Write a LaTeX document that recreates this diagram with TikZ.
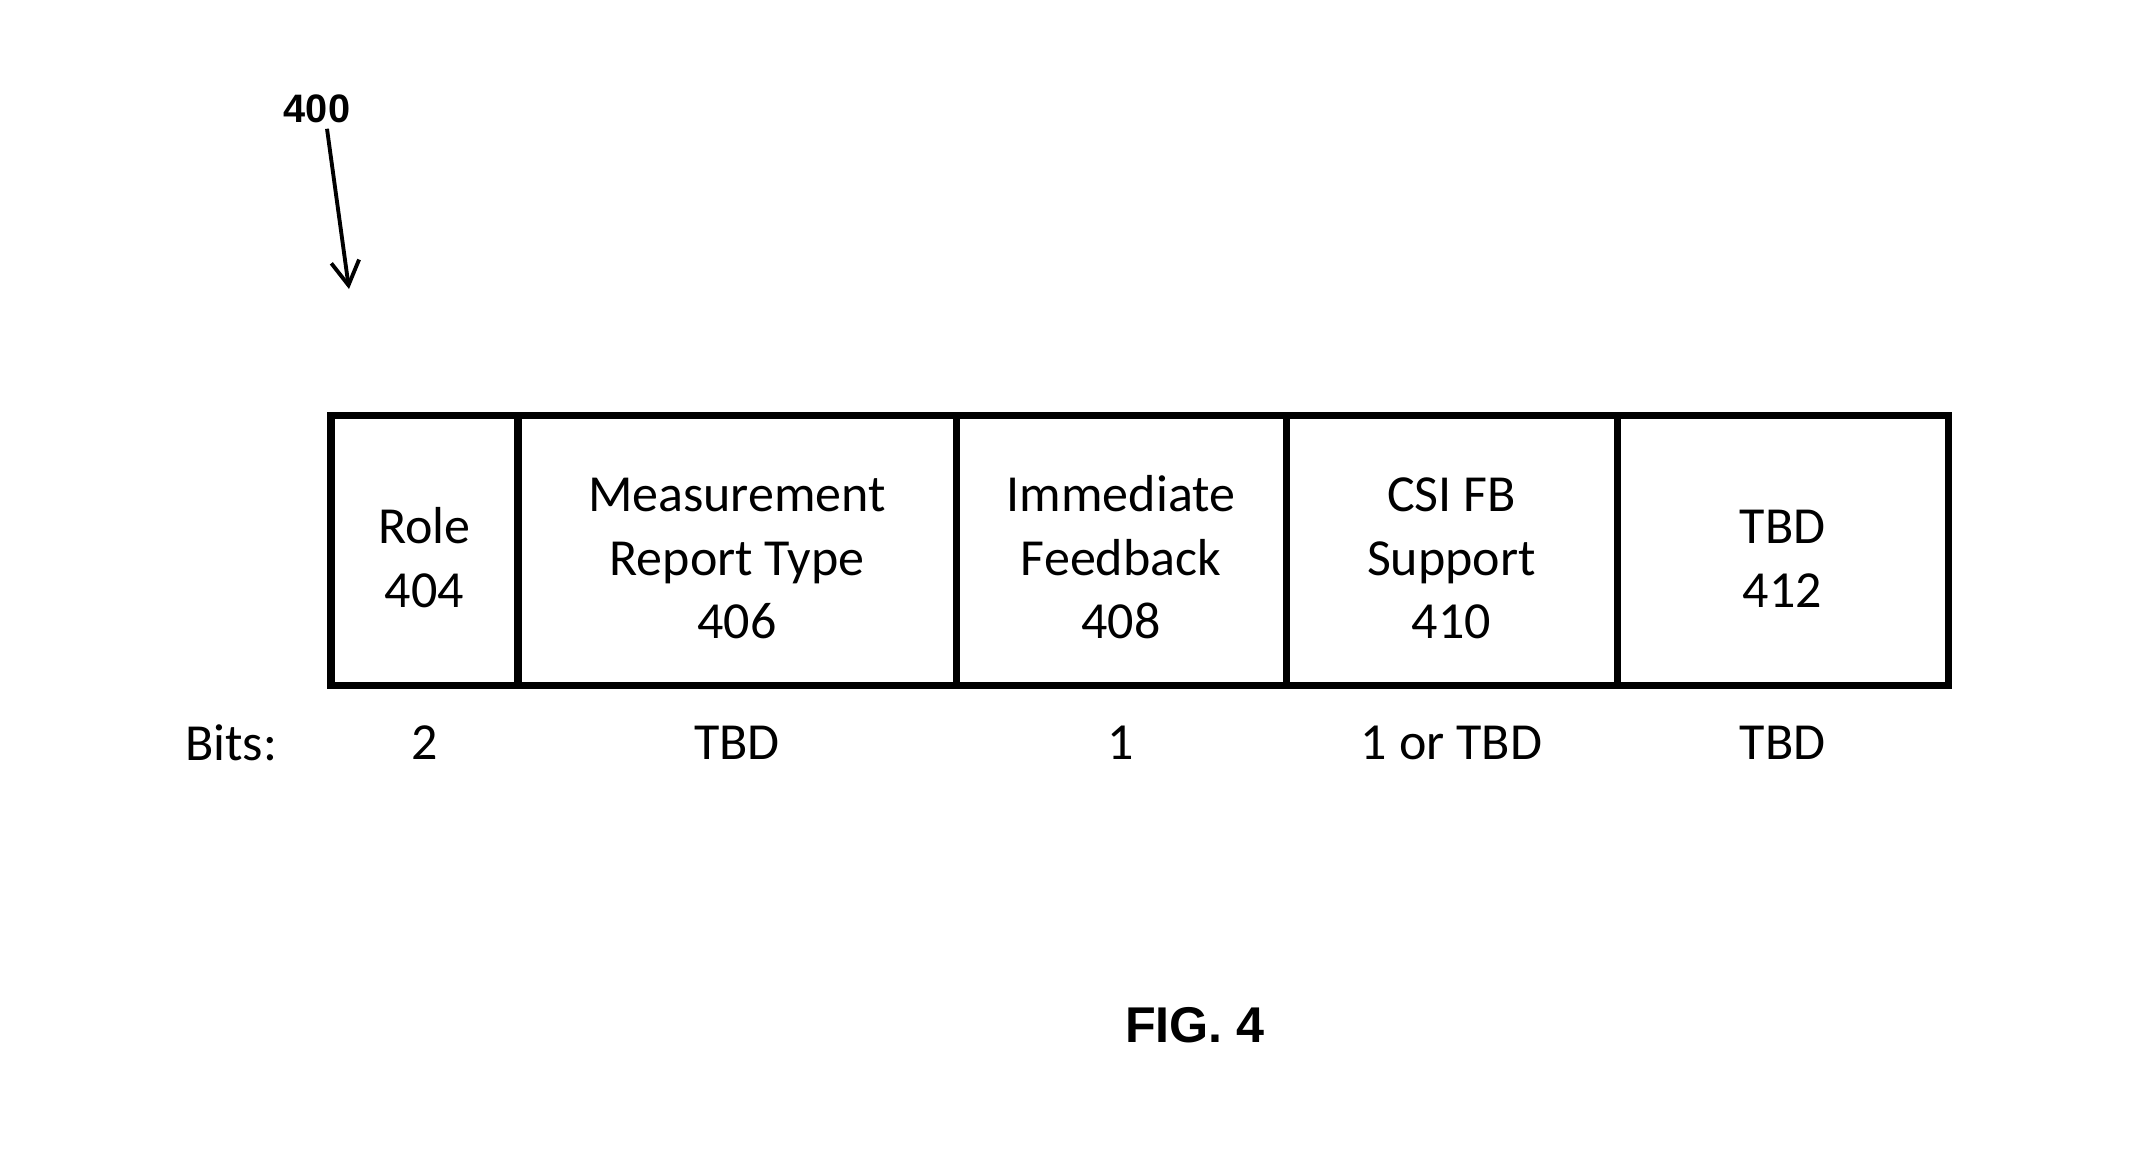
\documentclass[tikz,border=0pt]{standalone}
\usepackage{fontspec}
\setmainfont{Carlito}
\newfontfamily\arialfont{Liberation Sans}
\usetikzlibrary{positioning, arrows.meta}
\newcommand{\fstrut}{\rule{0pt}{14.5pt}}
\tikzset{%
    % champs de la trame
    field/.style = {draw, line width=2pt, rectangle, minimum height=2.70cm,
    inner sep=0pt, outer sep=0pt, align=center,
    font=\fontsize{14.8}{18.1}\selectfont},
    % taille en bits
    bits/.style  = {font=\fontsize{14.8}{18.1}\selectfont},
    % references
    ref/.style   = {inner sep=0pt, font=\arialfont\bfseries\fontsize{11.3}{13}\selectfont},
    fig/.style   = {font=\arialfont\bfseries\fontsize{14.3}{16}\selectfont},
    refarrow/.style = {line width=1.1pt, -{Straight Barb[length=2.4mm,width=2.8mm]}}
}
\begin{document}
\begin{tikzpicture}
	\useasboundingbox (0,0) rectangle (21.54,-11.62);

	% placement des champs
	\node[field, minimum width=1.87cm, anchor=west] (role) at (3.31,-5.50) {\fstrut Role\\404};
	\node[field, minimum width=4.38cm, right=0cm of role] (mrt) {\fstrut Measurement\\Report Type\\406};
	\node[field, minimum width=3.30cm, right=0cm of mrt] (imm) {\fstrut Immediate\\Feedback\\408};
	\node[field, minimum width=3.31cm, right=0cm of imm] (csi) {\fstrut CSI FB\\Support\\410};
	\node[field, minimum width=3.31cm, right=0cm of csi] (tbd) {\fstrut TBD\\412};

	% ligne des bits
	\coordinate (bitsrow) at (0,-7.43);
	\node[bits] (bitslbl) at (2.31,-7.43) {Bits:};
	\node[bits] (brole) at (role |- bitsrow) {2};
	\node[bits] (bmrt) at (mrt |- bitsrow) {TBD};
	\node[bits] (bimm) at (imm |- bitsrow) {1};
	\node[bits] (bcsi) at (csi |- bitsrow) {1 or TBD};
	\node[bits] (btbd) at (tbd |- bitsrow) {TBD};

	% reference 400
	\node[ref] (n400) at (3.17,-1.09) {400};
	\coordinate (tip) at (3.49,-2.89);
	\draw[refarrow] ([xshift=1mm,yshift=-0.5mm]n400.south) -- (tip);

	\node[fig] (fig4) at (11.95,-10.25) {FIG. 4};
\end{tikzpicture}
\end{document}
